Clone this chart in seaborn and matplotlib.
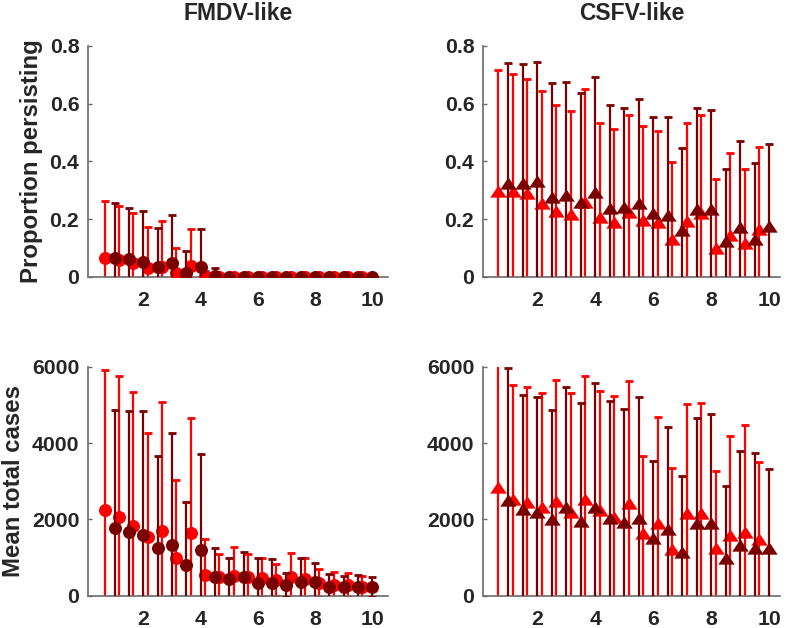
import numpy as np
import matplotlib
matplotlib.use('Agg')
import matplotlib.pyplot as plt
import seaborn as sns

sns.set_style('ticks')
plt.rcParams['font.family'] = ['Liberation Sans', 'DejaVu Sans']
plt.rcParams['font.weight'] = 'bold'

# x positions: dark series at 1..10 step 0.5, red series drawn just left of it
xpos = np.arange(1.0, 10.01, 0.5)
shift = 0.35

# FMDV-like, proportion persisting
fmdv_p_red = [0.064, 0.058, 0.046, 0.029, 0.035, 0.012, 0.037, 0.003, 0, 0, 0, 0, 0, 0, 0, 0, 0, 0, 0]
fmdv_p_red_hi = [0.262, 0.246, 0.222, 0.173, 0.194, 0.098, 0.166, 0.02, 0.01, 0.01, 0.01, 0.01, 0.01, 0.01, 0.01, 0.01, 0.01, 0.01, 0.01]
fmdv_p_dark = [0.066, 0.06, 0.052, 0.035, 0.046, 0.014, 0.035, 0.003, 0, 0, 0, 0, 0, 0, 0, 0, 0, 0, 0]
fmdv_p_dark_hi = [0.257, 0.238, 0.228, 0.168, 0.214, 0.09, 0.165, 0.03, 0.01, 0.01, 0.01, 0.01, 0.01, 0.01, 0.01, 0.01, 0.01, 0.01, 0.01]

# CSFV-like, proportion persisting
csfv_p_red = [0.298, 0.298, 0.291, 0.257, 0.229, 0.216, 0.258, 0.206, 0.191, 0.223, 0.197, 0.191, 0.13, 0.194, 0.22, 0.098, 0.145, 0.116, 0.164]
csfv_p_red_hi = [0.717, 0.702, 0.686, 0.645, 0.594, 0.576, 0.65, 0.532, 0.512, 0.562, 0.523, 0.505, 0.399, 0.532, 0.56, 0.339, 0.43, 0.372, 0.449]
csfv_p_dark = [0.324, 0.324, 0.332, 0.277, 0.283, 0.26, 0.295, 0.237, 0.24, 0.254, 0.22, 0.214, 0.162, 0.234, 0.235, 0.125, 0.171, 0.131, 0.176]
csfv_p_dark_hi = [0.74, 0.738, 0.746, 0.673, 0.675, 0.636, 0.692, 0.594, 0.584, 0.616, 0.553, 0.553, 0.447, 0.585, 0.578, 0.373, 0.472, 0.395, 0.46]

# FMDV-like, mean total cases
fmdv_c_red = [2245, 2070, 1825, 1528, 1703, 978, 1651, 542, 498, 515, 498, 472, 410, 498, 428, 323, 279, 279, 236]
fmdv_c_red_hi = [5913, 5756, 5345, 4271, 5083, 3031, 4646, 1476, 1083, 1266, 1083, 978, 830, 1127, 978, 690, 611, 585, 524]
fmdv_c_dark = [1764, 1677, 1590, 1258, 1328, 804, 1197, 498, 428, 498, 341, 341, 271, 358, 349, 236, 236, 236, 236]
fmdv_c_dark_hi = [4865, 4847, 4847, 3668, 4253, 2463, 3703, 1240, 996, 1153, 978, 952, 585, 978, 865, 568, 524, 541, 498]

# CSFV-like, mean total cases
csfv_c_red = [2856, 2524, 2463, 2332, 2480, 2201, 2524, 2245, 2070, 2419, 1651, 1895, 1214, 2157, 2157, 1258, 1590, 1677, 1476]
csfv_c_red_hi = [6200, 5520, 5459, 5302, 5651, 5302, 5764, 5371, 5240, 5633, 3668, 4673, 3336, 5022, 5040, 3275, 4192, 4472, 3494]
csfv_c_dark = [2507, 2262, 2201, 2000, 2332, 1965, 2315, 2026, 1939, 2026, 1502, 1738, 1153, 1895, 1895, 978, 1328, 1240, 1240]
csfv_c_dark_hi = [5957, 5258, 5197, 4865, 5476, 5057, 5564, 5109, 4900, 5197, 3537, 4411, 3135, 4646, 4760, 2882, 3791, 3747, 3319]

RED = '#ff0000'
DARK = '#7a0000'
AXC = '#6a6a6a'
tri = [(-1, -0.75), (1, -0.75), (0, 0.75)]


def panel(ax, red, red_hi, dark, dark_hi, marker, s):
    z = 2
    for m, hi, xx, c in [(red, red_hi, xpos - shift, RED), (dark, dark_hi, xpos, DARK)]:
        m = np.asarray(m, float)
        hi = np.asarray(hi, float)
        ax.errorbar(xx, m, yerr=hi - m, fmt='none', ecolor=c, elinewidth=1.6,
                    capsize=2.6, capthick=2.0, zorder=z)
        sns.scatterplot(x=xx, y=m, color=c, marker=marker, s=s, linewidth=0,
                        ax=ax, zorder=z + 1)
        z += 2
    sns.despine(ax=ax)
    for sp in ['left', 'bottom']:
        ax.spines[sp].set_color(AXC)
        ax.spines[sp].set_linewidth(1.2)
    ax.set_xticks([2, 4, 6, 8, 10])
    ax.tick_params(axis='both', direction='in', length=3, width=1, color=AXC,
                   labelsize=15.3, labelcolor='#262626')
    ax.tick_params(axis='x', pad=10)
    ax.tick_params(axis='y', pad=6)
    for lab in ax.get_xticklabels() + ax.get_yticklabels():
        lab.set_fontweight('bold')


fig = plt.figure(figsize=(7.87, 6.28), dpi=100)
ax_tl = fig.add_axes([0.1114, 0.5594, 0.3816, 0.3674])
ax_tr = fig.add_axes([0.6133, 0.5594, 0.3778, 0.3674])
ax_bl = fig.add_axes([0.1114, 0.0514, 0.3816, 0.3647])
ax_br = fig.add_axes([0.6133, 0.0514, 0.3778, 0.3647])

panel(ax_tl, fmdv_p_red, fmdv_p_red_hi, fmdv_p_dark, fmdv_p_dark_hi, 'o', 88)
panel(ax_tr, csfv_p_red, csfv_p_red_hi, csfv_p_dark, csfv_p_dark_hi, tri, 140)
panel(ax_bl, fmdv_c_red, fmdv_c_red_hi, fmdv_c_dark, fmdv_c_dark_hi, 'o', 88)
panel(ax_br, csfv_c_red, csfv_c_red_hi, csfv_c_dark, csfv_c_dark_hi, tri, 140)

for ax in [ax_tl, ax_tr]:
    ax.set_ylim(0, 0.8)
    ax.set_yticks([0, 0.2, 0.4, 0.6, 0.8], ['0', '0.2', '0.4', '0.6', '0.8'], fontweight='bold')
for ax in [ax_bl, ax_br]:
    ax.set_ylim(0, 6000)
    ax.set_yticks([0, 2000, 4000, 6000], ['0', '2000', '4000', '6000'], fontweight='bold')
for ax in [ax_tl, ax_bl]:
    ax.set_xlim(0.05, 10.55)
for ax in [ax_tr, ax_br]:
    ax.set_xlim(0.12, 10.37)

ax_tl.set_title('FMDV-like', fontsize=16.5, fontweight='bold', pad=19)
ax_tr.set_title('CSFV-like', fontsize=16.5, fontweight='bold', pad=19)
ax_tl.set_ylabel('Proportion persisting', fontsize=17.3, fontweight='bold', color='#262626', labelpad=5)
ax_bl.set_ylabel('Mean total cases', fontsize=17.3, fontweight='bold', color='#262626', labelpad=5)

fig.savefig('out.png', dpi=100)
